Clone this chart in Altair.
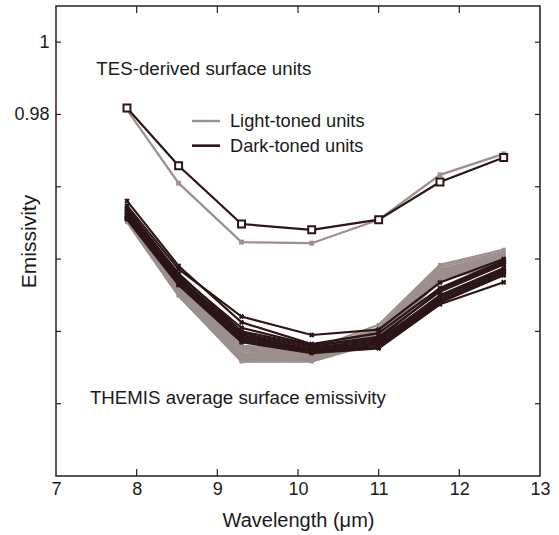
import altair as alt
import pandas as pd

# ---------------- data ----------------
wavelengths = [7.88, 8.52, 9.30, 10.17, 11.00, 11.76, 12.55]

tes_light = [0.9813, 0.9610, 0.9447, 0.9444, 0.9509, 0.9633, 0.9691]
tes_dark = [0.9818, 0.9658, 0.9497, 0.9481, 0.9509, 0.9613, 0.9681]

themis_light = [
    [0.9545, 0.9340, 0.9160, 0.9150, 0.9218, 0.9384, 0.9426],
    [0.9540, 0.9335, 0.9155, 0.9145, 0.9210, 0.9378, 0.9420],
    [0.9535, 0.9330, 0.9150, 0.9140, 0.9205, 0.9372, 0.9415],
    [0.9530, 0.9325, 0.9145, 0.9138, 0.9200, 0.9368, 0.9412],
    [0.9525, 0.9320, 0.9140, 0.9135, 0.9195, 0.9364, 0.9408],
    [0.9520, 0.9315, 0.9136, 0.9132, 0.9190, 0.9360, 0.9405],
    [0.9518, 0.9312, 0.9132, 0.9128, 0.9186, 0.9356, 0.9402],
    [0.9515, 0.9308, 0.9128, 0.9125, 0.9182, 0.9352, 0.9398],
    [0.9512, 0.9305, 0.9124, 0.9122, 0.9178, 0.9350, 0.9395],
    [0.9508, 0.9302, 0.9120, 0.9120, 0.9175, 0.9347, 0.9390],
    [0.9505, 0.9300, 0.9116, 0.9118, 0.9172, 0.9345, 0.9388],
    [0.9502, 0.9298, 0.9118, 0.9116, 0.9170, 0.9342, 0.9385],
]

themis_dark = [
    [0.9548, 0.9372, 0.9241, 0.9190, 0.9205, 0.9335, 0.9400],
    [0.9561, 0.9381, 0.9225, 0.9165, 0.9195, 0.9320, 0.9395],
    [0.9540, 0.9360, 0.9200, 0.9160, 0.9185, 0.9310, 0.9385],
    [0.9530, 0.9350, 0.9195, 0.9155, 0.9175, 0.9300, 0.9375],
    [0.9525, 0.9345, 0.9190, 0.9150, 0.9170, 0.9295, 0.9370],
    [0.9520, 0.9340, 0.9185, 0.9148, 0.9165, 0.9290, 0.9365],
    [0.9515, 0.9335, 0.9180, 0.9145, 0.9160, 0.9285, 0.9360],
    [0.9512, 0.9330, 0.9175, 0.9143, 0.9155, 0.9280, 0.9355],
    [0.9510, 0.9328, 0.9170, 0.9140, 0.9153, 0.9275, 0.9336],
    [0.9535, 0.9355, 0.9210, 0.9162, 0.9180, 0.9315, 0.9390],
]

x_ticks = [7, 8, 9, 10, 11, 12, 13]
x_inner_ticks = [8, 9, 10, 11, 12]
y_ticks = [0.90, 0.92, 0.94, 0.96, 0.98, 1.00]
y_labelled = [0.98, 1.00]

legend_labels = ["Light-toned units", "Dark-toned units"]
annotations = ["TES-derived surface units", "THEMIS average surface emissivity"]
annot_x = [7.50, 7.42]
annot_y = [0.9908, 0.9000]

# ---------------- styling ----------------
LIGHT = "#9d8f8e"
DARK = "#2b1517"
FRAME = "#2a1c1c"
TEXT = "#1a1a1a"
FONT = "Liberation Sans"
W, H = 484, 470


def long_df(series_list, prefix):
    rows = []
    for i, s in enumerate(series_list):
        for wl, v in zip(wavelengths, s):
            rows.append({"wl": wl, "em": v, "id": f"{prefix}{i}"})
    return pd.DataFrame(rows)


df_tl = long_df(themis_light, "L")
df_td = long_df(themis_dark, "D")
df_tes_l = pd.DataFrame({"wl": wavelengths, "em": tes_light})
df_tes_d = pd.DataFrame({"wl": wavelengths, "em": tes_dark})

xscale = alt.Scale(domain=[7, 13], nice=False, zero=False)
yscale = alt.Scale(domain=[0.88, 1.01], nice=False, zero=False)

x_axis = alt.Axis(
    values=x_ticks, format="d", title="Wavelength (μm)", grid=False, domain=False,
    ticks=False, tickSize=0, labelFontSize=18, labelFont=FONT, labelColor=TEXT,
    labelPadding=4, titleFontSize=20, titleFont=FONT, titleColor=TEXT,
    titleFontWeight="normal", titleBaseline="alphabetic", titleY=50, titleX=W / 2,
    labelFlush=False,
)
y_axis = alt.Axis(
    values=y_labelled, format=".2~f", title="Emissivity", grid=False, domain=False,
    ticks=False, tickSize=0, labelFontSize=18, labelFont=FONT, labelColor=TEXT,
    labelPadding=7, titleFontSize=21, titleFont=FONT, titleColor=TEXT,
    titleFontWeight="normal", titleAngle=270, titleBaseline="alphabetic",
    titleX=-21, titleY=H / 2, titleAlign="center",
)

X = alt.X("wl:Q", scale=xscale, axis=x_axis)
Y = alt.Y("em:Q", scale=yscale, axis=y_axis)

themis_l_lines = alt.Chart(df_tl).mark_line(color=LIGHT, strokeWidth=2.2).encode(
    x=X, y=Y, detail="id:N")
themis_l_pts = alt.Chart(df_tl).mark_point(
    shape="cross", angle=45, filled=True, size=22, color=LIGHT, opacity=1).encode(x=X, y=Y)
themis_d_lines = alt.Chart(df_td).mark_line(color=DARK, strokeWidth=2.2).encode(
    x=X, y=Y, detail="id:N")
themis_d_pts = alt.Chart(df_td).mark_point(
    shape="cross", angle=45, filled=True, size=30, color=DARK, opacity=1).encode(x=X, y=Y)

tes_l_line = alt.Chart(df_tes_l).mark_line(color=LIGHT, strokeWidth=2.2).encode(x=X, y=Y)
tes_l_pts = alt.Chart(df_tes_l).mark_point(
    shape="square", filled=True, size=24, color=LIGHT, opacity=1).encode(x=X, y=Y)
tes_d_line = alt.Chart(df_tes_d).mark_line(color=DARK, strokeWidth=2.2).encode(x=X, y=Y)
tes_d_pts = alt.Chart(df_tes_d).mark_point(
    shape="square", filled=False, size=48, stroke=DARK, fill="white",
    fillOpacity=1, strokeWidth=2, opacity=1).encode(x=X, y=Y)

# inward ticks on all four sides
xt = pd.DataFrame({"v": x_inner_ticks})
yt = pd.DataFrame({"v": y_ticks})
XT = alt.X("v:Q", scale=xscale, axis=x_axis)
YT = alt.Y("v:Q", scale=yscale, axis=y_axis)
tick_b = alt.Chart(xt).mark_rule(color=FRAME, strokeWidth=1.2).encode(
    x=XT, y=alt.value(H), y2=alt.value(H - 7))
tick_t = alt.Chart(xt).mark_rule(color=FRAME, strokeWidth=1.2).encode(
    x=XT, y=alt.value(0), y2=alt.value(7))
tick_l = alt.Chart(yt).mark_rule(color=FRAME, strokeWidth=1.2).encode(
    y=YT, x=alt.value(0), x2=alt.value(5))
tick_r = alt.Chart(yt).mark_rule(color=FRAME, strokeWidth=1.2).encode(
    y=YT, x=alt.value(W), x2=alt.value(W - 5))

# annotations
ann_df = pd.DataFrame({"x": annot_x, "y": annot_y, "t": annotations})
ann = alt.Chart(ann_df).mark_text(
    align="left", baseline="alphabetic", fontSize=18.7, font=FONT, color=TEXT).encode(
    x=alt.X("x:Q", scale=xscale, axis=x_axis), y=alt.Y("y:Q", scale=yscale, axis=y_axis),
    text="t:N")

# legend (manual)
leg_df = pd.DataFrame({"t": legend_labels})
leg_line_l = alt.Chart(leg_df).mark_rule(color=LIGHT, strokeWidth=2.2).encode(
    x=alt.value(136), x2=alt.value(164), y=alt.value(115))
leg_line_d = alt.Chart(leg_df).mark_rule(color=DARK, strokeWidth=2.2).encode(
    x=alt.value(136), x2=alt.value(164), y=alt.value(139.7))
leg_txt_l = alt.Chart(leg_df.iloc[[0]]).mark_text(
    align="left", baseline="alphabetic", fontSize=18.2, font=FONT, color=TEXT).encode(
    x=alt.value(174), y=alt.value(120.7), text="t:N")
leg_txt_d = alt.Chart(leg_df.iloc[[1]]).mark_text(
    align="left", baseline="alphabetic", fontSize=18.2, font=FONT, color=TEXT).encode(
    x=alt.value(174), y=alt.value(145.7), text="t:N")

chart = alt.layer(
    themis_l_lines, themis_l_pts, themis_d_lines, themis_d_pts,
    tes_l_line, tes_l_pts, tes_d_line, tes_d_pts,
    tick_b, tick_t, tick_l, tick_r, ann,
    leg_line_l, leg_line_d, leg_txt_l, leg_txt_d,
).properties(
    width=W, height=H,
    autosize=alt.AutoSizeParams(type="none"),
    padding={"left": 56, "top": 6, "right": 19, "bottom": 59},
    background="white",
).configure_view(
    stroke=FRAME, strokeWidth=1.5,
)

chart.save("out.html", embed_options={"renderer": "svg", "actions": False})
